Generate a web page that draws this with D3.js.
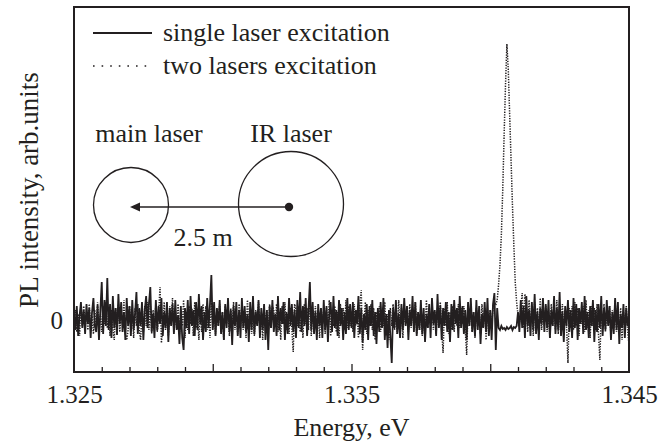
<!DOCTYPE html>
<html>
<head>
<meta charset="utf-8">
<script src="https://cdn.jsdelivr.net/npm/d3@7"></script>
<style>
  body { margin: 0; background: #fff; }
  svg { display: block; }
</style>
</head>
<body>
<svg id="chart" width="663" height="443"></svg>
<script>
// Energy axis: 1.325 .. 1.345 eV, one sample every 0.00005 eV (401 points)
var energyStart = 1.325;
var energyStep = 0.00005;

// single laser excitation (solid), arb. units
var singleLaser = [
  6, -10, 14, -16, 4, 18, -8, 10, -14, 16, -4, 12, -18, 8, 22, -6, -12, 15, -20, 10,
  38, -14, 20, -6, 42, -10, 16, -18, 24, -8, 12, -15, 26, -4, 18, -12, 8, -20, 22, -6,
  14, -16, 20, -10, 6, 28, -14, 12, -6, 18, -20, 10, 24, -8, 16, 33, -12, 6, -18, 20,
  -10, 14, -4, 22, -16, 8, -8, 18, -22, 12, -6, 16, -14, 20, -10, 4, -24, 14, -18, -30,
  12, -8, 20, -14, 24, -6, 10, -16, 18, -10, 26, -4, 14, -20, 8, -12, 22, -8, 16, 45,
  -10, 18, -16, 12, -6, 20, -14, 8, -20, 16, -8, 22, -12, 10, -25, 14, -6, 18, -16, 10,
  -18, 22, -8, 14, -12, 6, -22, 18, -10, 24, -14, 8, -6, 20, -18, 12, -10, 16, -20, 10,
  -30, 14, -8, 20, -12, 6, -16, 24, -10, 12, -4, 18, -20, 8, -14, 22, -6, 16, -12, 10,
  -18, 20, -8, 28, -12, 14, -6, 22, -16, 10, 38, -10, 18, -14, 8, -20, 16, -6, 12, -18,
  20, -10, 14, -22, 6, 18, -12, 24, -8, 10, -16, 20, -6, 12, -20, 8, -14, 22, -10, 16,
  -8, 18, -18, 10, -4, 24, -14, 12, -22, 6, -10, 16, -20, 14, -6, 20, -16, 8, -24, 12,
  -12, 18, -8, 22, -20, 6, -28, 10, -16, -43, 12, -8, 20, -14, 6, -18, 16, -10, 22, -6,
  14, -20, 10, -6, 24, -12, 18, -16, 8, -10, 20, -14, 12, -22, 6, -8, 16, -18, 22, -4,
  10, -16, 26, -8, 14, -20, 12, -6, 18, -12, 8, -22, 16, -10, 20, -4, 12, -18, 24, -8,
  14, -14, 10, -20, 18, -6, 22, -12, 8, -16, 20, -10, 14, -24, 6, -8, 18, -12, 22, -16,
  10, -20, 16, 27, -30, 12, -8, -10, -6, -9, -8, -10, -7, -9, -8, -6, -10, -7, -8, -6,
  8, -12, 20, -8, 14, -18, 24, -6, 10, -16, 18, -10, 26, -14, 8, -20, 12, -4, 22, -12,
  16, -8, 20, -18, 10, -6, 24, -14, 12, -10, 28, -16, 8, -22, 14, -6, 20, -12, 10, -18,
  22, -8, 16, -20, 12, -4, 18, -14, 24, -10, 8, -18, 14, -6, 20, -22, 10, -12, 16, -8,
  24, -16, 12, -10, 20, -6, 14, -20, 8, -14, 22, -10, 18, -24, 6, -8, 16, -18, 12, -6,
  4
];

// two lasers excitation (dotted), arb. units
var twoLasers = [
  -4, 10, -12, 6, -16, 12, -6, 14, -2, 8, -10, 16, -8, 4, -14, 10, -6, 18, -10, 6,
  -12, 14, -4, 18, -8, 6, -16, 10, -8, -20, 12, -6, 16, -12, 8, -4, 20, -14, -20, -10,
  14, -8, 10, -18, 12, -6, 16, -10, -20, 8, -12, 14, -6, 18, -10, 16, -14, 10, -8, 16,
  -12, 6, 33, -23, -6, 18, -10, 8, -16, 14, -4, 22, -12, 6, -8, 16, -14, 10, -6, 20,
  -18, 8, -10, 14, -4, 12, -16, 18, -8, 6, -20, 10, -12, 16, -6, 14, -10, 8, -18, 20,
  -8, 12, -14, 10, -6, 16, -12, 8, -20, 14, -4, 10, -16, 12, -8, 18, -10, 6, -14, 16,
  -6, 14, -10, 8, -18, 20, -8, 12, -14, 6, -16, 10, -4, 18, -12, 8, -20, 14, -6, 10,
  -12, 16, -8, 14, 10, -6, 16, -12, 8, -20, 14, -4, 18, -10, 6, -14, 12, -8, -32, 16,
  10, -6, 14, -12, 8, -18, 16, -4, 12, -10, 20, -16, 10, -6, 14, -12, 8, -18, 12, -4,
  10, -14, 12, -8, 20, -16, 10, -6, 14, -12, 8, -18, 16, -4, 12, -10, 20, -8, 14, -6,
  8, -12, 16, -6, 10, -18, 14, 30, -30, -4, 18, -14, 10, -6, 16, -10, 12, -20, 8, -4,
  14, -12, 8, -6, 18, -16, 6, -20, 12, -6, 16, -10, 8, -14, 20, -6, 12, -18, 10, -4,
  14, -12, 16, -8, 10, -6, 18, -14, 8, -10, 14, -16, 6, -12, 20, -8, 12, -4, 16, -10,
  8, -14, 12, -6, 18, -10, -33, 12, -6, 18, -14, 8, -10, 14, -12, 10, -6, 16, -8, 12,
  -4, 14, -10, -35, 10, -6, 16, -12, 8, -18, 12, -4, 10, -14, 16, -8, 12, -20, 10, -6,
  10, -8, 14, 18, 15, 20, 35, 55, 85, 130, 185, 235, 276, 250, 205, 160, 115, 75, 38, 18,
  5, -4, 12, 27, -8, 26, 14, -12, 20, -6, 10, -16, 18, -8, 12, -14, 22, -10, 8, -6,
  14, -12, 8, -18, 16, -6, 12, -10, 20, -14, 8, -4, 16, -12, 10, -6, -43, 12, -8, 14,
  -10, 18, -6, 12, -16, 8, -4, 14, -12, 20, -8, 10, -18, 14, -6, 12, -10, 16, -14, -40,
  10, -6, 16, -12, 8, -4, 14, -18, 10, -8, 20, -12, 6, -14, 12, -20, 8, -6, 14, -10,
  -25
];

var xLabelTicks = [1.325, 1.335, 1.345];
var xMajorTicks = [1.330, 1.335, 1.340];
var xMinorTicks = [1.326, 1.327, 1.328, 1.329, 1.331, 1.332, 1.333, 1.334,
  1.336, 1.337, 1.338, 1.339, 1.341, 1.342, 1.343, 1.344];
var yLabelTicks = [0];

var legendItems = [
  { name: 'single laser excitation', dash: null },
  { name: 'two lasers excitation', dash: '1.6,7' }
];

var FONT = '"Liberation Serif", "Times New Roman", serif';
var INK = '#231f20';
var margin = { left: 74, right: 34, top: 7, bottom: 71 };
var width = 663, height = 443;

var svg = d3.select('#chart');

var x = d3.scaleLinear()
    .domain([1.325, 1.345])
    .range([margin.left, width - margin.right]);

var y = d3.scaleLinear()
    .domain([-52, 313])
    .range([height - margin.bottom, margin.top]);

var toPoints = function (values) {
  return values.map(function (v, i) {
    return { e: energyStart + i * energyStep, v: v };
  });
};

var line = d3.line()
    .x(function (d) { return x(d.e); })
    .y(function (d) { return y(d.v); });

var addText = function (parent, str, size) {
  return parent.append('text')
      .attr('font-family', FONT)
      .attr('font-size', size)
      .attr('fill', INK)
      .text(str);
};

// dotted curve goes underneath, solid on top
svg.append('path')
    .datum(toPoints(twoLasers))
    .attr('d', line)
    .attr('fill', 'none')
    .attr('stroke', INK)
    .attr('stroke-width', 1.5)
    .attr('stroke-dasharray', '1.3,1.3');

svg.append('path')
    .datum(toPoints(singleLaser))
    .attr('d', line)
    .attr('fill', 'none')
    .attr('stroke', INK)
    .attr('stroke-width', 1.8);

// bottom axis: minor + major inward ticks, labels at ends and middle
var axisY = height - margin.bottom;
var styleAxis = function (g) {
  g.select('.domain').remove();
  g.selectAll('line').attr('stroke', INK).attr('stroke-width', 1.3);
  g.selectAll('text')
      .attr('font-family', FONT)
      .attr('font-size', 25)
      .attr('fill', INK);
};

svg.append('g')
    .attr('transform', 'translate(0,' + axisY + ')')
    .call(d3.axisBottom(x).tickValues(xMinorTicks).tickSize(-5).tickFormat(''))
    .call(styleAxis);

svg.append('g')
    .attr('transform', 'translate(0,' + axisY + ')')
    .call(d3.axisBottom(x).tickValues(xMajorTicks).tickSize(-8).tickFormat(''))
    .call(styleAxis);

svg.append('g')
    .attr('transform', 'translate(0,' + axisY + ')')
    .call(d3.axisBottom(x).tickValues(xLabelTicks).tickSize(0).tickPadding(13)
        .tickFormat(d3.format('.3f')))
    .call(styleAxis);

svg.append('g')
    .attr('transform', 'translate(' + margin.left + ',0)')
    .call(d3.axisLeft(y).tickValues(yLabelTicks).tickSize(0).tickPadding(11))
    .call(styleAxis);

// frame
svg.append('rect')
    .attr('x', margin.left)
    .attr('y', margin.top)
    .attr('width', width - margin.left - margin.right)
    .attr('height', height - margin.top - margin.bottom)
    .attr('fill', 'none')
    .attr('stroke', INK)
    .attr('stroke-width', 2);

// axis titles
addText(svg, 'Energy, eV', 26)
    .attr('x', (x.range()[0] + x.range()[1]) / 2)
    .attr('y', 436)
    .attr('text-anchor', 'middle');

addText(svg, 'PL intensity, arb.units', 27)
    .attr('transform', 'translate(38,190) rotate(-90)')
    .attr('text-anchor', 'middle');

// legend
var legend = svg.append('g').attr('transform', 'translate(93,33)');
legendItems.forEach(function (item, i) {
  var row = legend.append('g').attr('transform', 'translate(0,' + (i * 33) + ')');
  row.append('line')
      .attr('x1', 0).attr('x2', 59)
      .attr('stroke', INK)
      .attr('stroke-width', item.dash ? 1.6 : 2)
      .attr('stroke-dasharray', item.dash);
  addText(row, item.name, 26)
      .attr('x', 70)
      .attr('y', 8);
});

// inset sketch: two laser spots, 2.5 m apart
var inset = svg.append('g');
addText(inset, 'main laser', 26).attr('x', 149).attr('y', 142).attr('text-anchor', 'middle');
addText(inset, 'IR laser', 26).attr('x', 291).attr('y', 142).attr('text-anchor', 'middle');
inset.append('circle').attr('cx', 131).attr('cy', 205).attr('r', 37.5)
    .attr('fill', 'none').attr('stroke', INK).attr('stroke-width', 1.3);
inset.append('circle').attr('cx', 291).attr('cy', 204).attr('r', 52.5)
    .attr('fill', 'none').attr('stroke', INK).attr('stroke-width', 1.3);
inset.append('line').attr('x1', 289).attr('y1', 207).attr('x2', 138).attr('y2', 207)
    .attr('stroke', INK).attr('stroke-width', 1.4);
inset.append('path').attr('d', 'M130,207 L140,202.5 L140,211.5 Z').attr('fill', INK);
inset.append('circle').attr('cx', 289).attr('cy', 207).attr('r', 4.2).attr('fill', INK);
addText(inset, '2.5 m', 26).attr('x', 203).attr('y', 246).attr('text-anchor', 'middle');
</script>
</body>
</html>
